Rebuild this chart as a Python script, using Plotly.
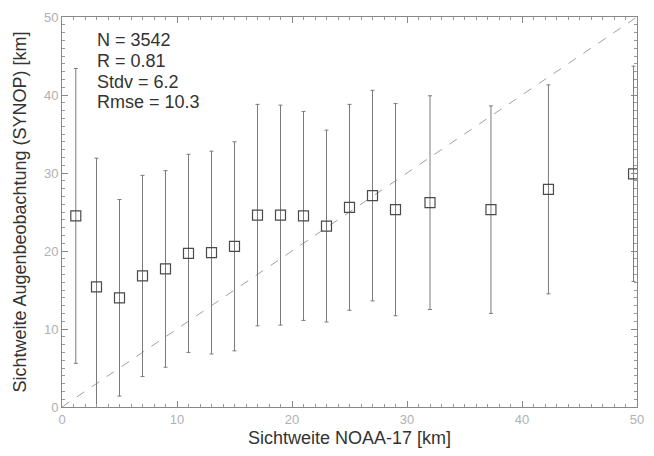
import plotly.graph_objects as go

# Data
x_noaa = [1.2, 3.0, 5.0, 7.0, 9.0, 11.0, 13.0, 15.0, 17.0, 19.0, 21.0, 23.0,
          25.0, 27.0, 29.0, 32.0, 37.3, 42.3, 49.7]
y_synop_mean = [24.5, 15.4, 14.0, 16.8, 17.7, 19.7, 19.8, 20.6, 24.6, 24.6, 24.5, 23.2,
                25.6, 27.1, 25.3, 26.2, 25.3, 27.9, 29.9]
y_synop_sd = [18.9, 16.5, 12.6, 12.9, 12.6, 12.7, 13.0, 13.4, 14.2, 14.1, 13.4, 12.3,
              13.2, 13.5, 13.6, 13.7, 13.3, 13.4, 13.8]
diag = [0, 50]
stats_lines = ["N = 3542", "R = 0.81", "Stdv = 6.2", "Rmse = 10.3"]
stats_ypos = [0.941, 0.887, 0.834, 0.782]

FONT = "Liberation Sans, Arial, sans-serif"

fig = go.Figure()

fig.add_trace(go.Scatter(
    x=diag, y=diag, mode="lines",
    line=dict(color="#a0a0a0", width=1, dash="dash"),
    showlegend=False, hoverinfo="skip"))

fig.add_trace(go.Scatter(
    x=x_noaa, y=y_synop_mean, mode="markers",
    marker=dict(symbol="square-open", size=10, color="#4a4a4a",
                line=dict(width=1.2, color="#4a4a4a")),
    error_y=dict(type="data", array=y_synop_sd, visible=True,
                 color="#7a7a7a", thickness=1, width=2),
    showlegend=False))

for txt, yp in zip(stats_lines, stats_ypos):
    fig.add_annotation(
        x=0.057, y=yp, xref="paper", yref="paper",
        xanchor="left", yanchor="middle", align="left", showarrow=False,
        text=txt, font=dict(family=FONT, size=18, color="#333333"))

axis_common = dict(
    range=[0, 50], tickmode="linear", tick0=0, dtick=10,
    ticks="inside", ticklen=6,
    tickcolor="#888888", showline=True, linecolor="#888888", linewidth=1,
    mirror="ticks", showgrid=False, zeroline=False, automargin=False,
    tickfont=dict(family=FONT, size=13, color="#b0b0b0"),
    minor=dict(tickmode="linear", dtick=1, ticks="inside", ticklen=3,
               tickcolor="#9a9a9a", showgrid=False),
)

# page body has an 8px default margin; figure sized to fit inside the window
fig.update_layout(
    width=638, height=440,
    margin=dict(l=54, r=9, t=9, b=41),
    paper_bgcolor="white", plot_bgcolor="white",
    xaxis=dict(**axis_common,
               title=dict(text="Sichtweite NOAA-17 [km]", standoff=6,
                          font=dict(family=FONT, size=18, color="#333333"))),
    yaxis=dict(**axis_common,
               title=dict(text="Sichtweite Augenbeobachtung (SYNOP) [km]", standoff=12,
                          font=dict(family=FONT, size=18, color="#333333"))),
)

fig.write_html("out.html")
